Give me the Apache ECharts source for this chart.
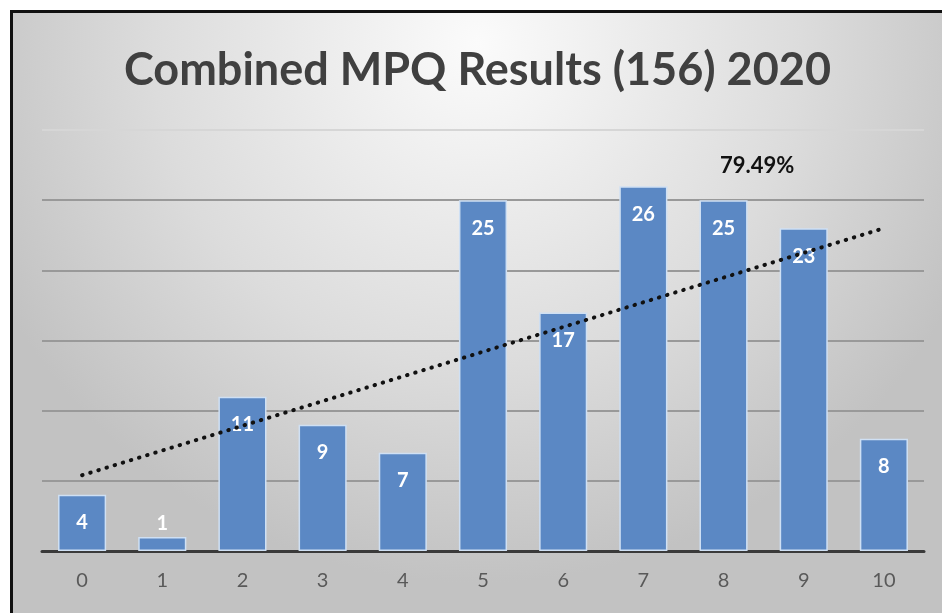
<html>
<head>
<meta charset="UTF-8">
<title>Combined MPQ Results (156) 2020</title>
<script src="https://cdn.jsdelivr.net/npm/echarts@6/dist/echarts.min.js"></script>
<style>
  body { margin: 0; background: #fff; }
  #frame { position: absolute; left: 10px; top: 10px; width: 940px; height: 610px;
           border-left: 3px solid #111; border-top: 3px solid #111; }
  #main { width: 929px; height: 600px; }
</style>
</head>
<body>
<div id="frame"><div id="main"></div></div>
<script type="text/javascript">
var scores = ['0', '1', '2', '3', '4', '5', '6', '7', '8', '9', '10'];
var counts = [4, 1, 11, 9, 7, 25, 17, 26, 25, 23, 8];
// trendline end values (at score 0 and score 10)
var trendEnds = [5.4, 23.0];
var passRate = '79.49%';

var myChart = echarts.init(document.getElementById('main'));

var barData = counts.map(function (v) {
  if (v < 3) {
    return { value: v, label: { position: 'top', distance: 3 } };
  }
  return v;
});

var option = {
  backgroundColor: {
    type: 'radial', x: 0.5, y: 0.05, r: 0.9,
    colorStops: [
      { offset: 0, color: '#fbfbfb' },
      { offset: 0.6, color: '#dcdcdc' },
      { offset: 1, color: '#c2c2c2' }
    ]
  },
  title: {
    text: 'Combined MPQ Results (156) 2020',
    left: 'center',
    top: 30,
    textStyle: { fontFamily: 'Lato', fontWeight: 'bold', fontSize: 45, color: '#404040' }
  },
  graphic: [{
    type: 'text', left: 707, top: 142,
    style: { text: passRate, fontFamily: 'Lato', fontWeight: 'bold', fontSize: 22, fill: '#111' }
  }],
  grid: { left: 29, right: 18, top: 117, bottom: 62 },
  xAxis: {
    type: 'category',
    data: scores,
    axisTick: { show: false },
    axisLine: { lineStyle: { color: '#3a3a3a', width: 3 } },
    axisLabel: { color: '#595959', fontFamily: 'Lato', fontSize: 20, margin: 20 }
  },
  yAxis: {
    type: 'value',
    min: 0, max: 30, interval: 5,
    axisLabel: { show: false },
    axisLine: { show: false },
    axisTick: { show: false },
    splitLine: { lineStyle: { color: ['#999', '#999', '#999', '#999', '#999', '#999', '#d6d6d6'], width: 2 } }
  },
  series: [{
    name: 'Count',
    type: 'bar',
    data: barData,
    barWidth: '60%',
    itemStyle: { color: '#5b88c4', borderColor: '#cfe0f4', borderWidth: 1.5 },
    label: {
      show: true, position: 'insideTop', distance: 18,
      color: '#fff', fontFamily: 'Lato', fontWeight: 'bold', fontSize: 20
    },
    markLine: {
      silent: true,
      symbol: 'none',
      label: { show: false },
      lineStyle: { color: '#111', type: [0.5, 8], cap: 'round', width: 4 },
      data: [[{ coord: [0, trendEnds[0]] }, { coord: [10, trendEnds[1]] }]]
    }
  }]
};
myChart.setOption(option);
</script>
</body>
</html>
